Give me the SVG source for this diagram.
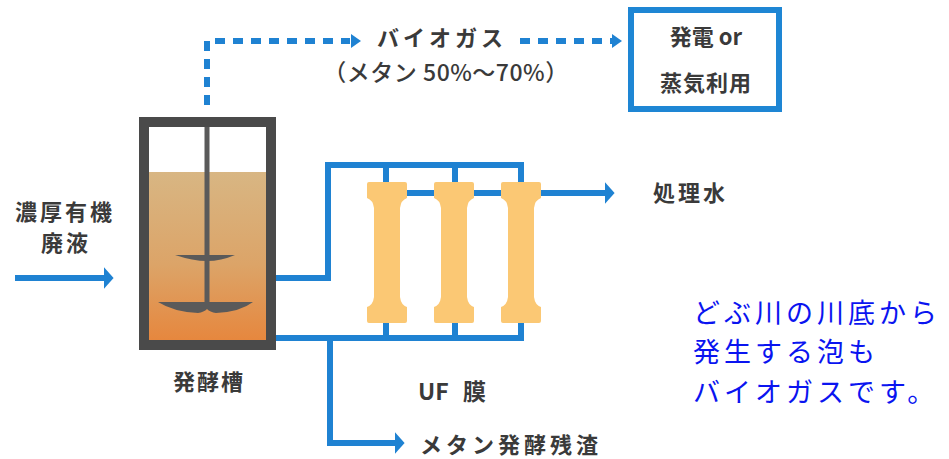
<svg xmlns="http://www.w3.org/2000/svg" xmlns:xlink="http://www.w3.org/1999/xlink" width="949" height="459" viewBox="0 0 949 459">
  <style>
    .lbl { font-family: "Noto Sans CJK JP", "Noto Sans", sans-serif; font-weight: bold; fill: #3a3a3a; }
    .note { font-family: "Noto Sans CJK JP", "Noto Sans", sans-serif; font-size: 27px; letter-spacing: 4px; fill: #0a14f0; }
    .pipe { fill: none; stroke: #1f82d2; stroke-width: 6; stroke-linejoin: miter; }
    .gas { fill: none; stroke: #1f82d2; stroke-width: 6; stroke-dasharray: 10 8; }
  </style>
  <defs>
    <marker id="arrow" markerWidth="4" markerHeight="4" refX="0" refY="2" orient="auto" markerUnits="strokeWidth">
      <path d="M0,0.2 L1.6,2 L0,3.8 Z" fill="#1f82d2"/>
    </marker>
    <linearGradient id="liquid" x1="0" y1="0" x2="0" y2="1">
      <stop offset="0" stop-color="#d8b683"/>
      <stop offset="0.55" stop-color="#dca468"/>
      <stop offset="1" stop-color="#e6873e"/>
    </linearGradient>
    <!-- one UF membrane module, centred on x=0 -->
    <path id="module" fill="#fbc874" d="M-20,184 Q-20,182 -18,182 H18 Q20,182 20,184 V198 Q14,200 13,208 V297 Q14,305 20,307 V321 Q20,323 18,323 H-18 Q-20,323 -20,321 V307 Q-14,305 -13,297 V208 Q-14,200 -20,198 Z"/>
  </defs>

  <rect width="949" height="459" fill="#ffffff"/>

  <!-- pipes and flows -->
  <g id="connectors">
    <!-- biogas line -->
    <polyline class="gas" points="207,105 207,41 350,41"/>
    <path d="M351,34 L361,41 L351,48 Z" fill="#1f82d2"/>
    <line class="gas" x1="520" y1="41" x2="612" y2="41"/>
    <path d="M612,34 L622,41 L612,48 Z" fill="#1f82d2"/>
    <!-- feed -->
    <line class="pipe" x1="15" y1="278" x2="104" y2="278" marker-end="url(#arrow)"/>
    <!-- tank to membranes -->
    <polyline class="pipe" points="276,278 328,278 328,165 521,165 521,185"/>
    <line class="pipe" x1="386" y1="165" x2="386" y2="185"/>
    <line class="pipe" x1="455" y1="165" x2="455" y2="185"/>
    <!-- permeate -->
    <line class="pipe" x1="390" y1="193" x2="605" y2="193" marker-end="url(#arrow)"/>
    <!-- retentate return -->
    <polyline class="pipe" points="276,338 521,338 521,318"/>
    <line class="pipe" x1="386" y1="338" x2="386" y2="318"/>
    <line class="pipe" x1="455" y1="338" x2="455" y2="318"/>
    <!-- digestate -->
    <polyline class="pipe" points="330,338 330,443 395,443" marker-end="url(#arrow)"/>
  </g>

  <!-- digester tank -->
  <g id="tank">
    <rect x="149" y="172" width="117" height="168" fill="url(#liquid)"/>
    <rect x="144" y="122" width="127" height="223" fill="none" stroke="#4a4a4a" stroke-width="10"/>
    <rect x="204.5" y="127" width="5" height="180" fill="#5a5a5a"/>
    <path d="M175,255 H235 Q221,261 207,261 Q193,261 175,255 Z" fill="#5a5a5a"/>
    <path d="M158,302 H253 Q240,312 216,313 Q210,312 207,309 Q204,312 198,313 Q174,312 158,302 Z" fill="#5a5a5a"/>
    <text class="lbl" x="209" y="390" font-size="22" text-anchor="middle" letter-spacing="2">発酵槽</text>
  </g>

  <!-- feed label -->
  <g id="feed">
    <text class="lbl" x="65" y="220" font-size="22" text-anchor="middle" letter-spacing="3">濃厚有機</text>
    <text class="lbl" x="66" y="251" font-size="22" text-anchor="middle" letter-spacing="3">廃液</text>
  </g>

  <!-- UF membrane modules -->
  <g id="uf">
    <use xlink:href="#module" x="387"/>
    <use xlink:href="#module" x="454"/>
    <use xlink:href="#module" x="521"/>
    <text class="lbl" y="400" font-size="23"><tspan x="418">UF</tspan><tspan x="463">膜</tspan></text>
  </g>

  <!-- biogas label -->
  <g id="biogas">
    <text class="lbl" x="442" y="46" font-size="22" text-anchor="middle" letter-spacing="4">バイオガス</text>
    <text class="lbl" x="446" y="81" font-size="23" text-anchor="middle" letter-spacing="0.5" style="font-weight:500">（メタン 50%〜70%）</text>
  </g>

  <!-- power / steam use -->
  <g id="use">
    <rect x="631" y="10" width="148" height="99" fill="#ffffff" stroke="#1e86d4" stroke-width="6"/>
    <text class="lbl" x="706" y="45" font-size="22" text-anchor="middle">発電 or</text>
    <text class="lbl" x="706" y="91" font-size="22" text-anchor="middle" letter-spacing="1">蒸気利用</text>
  </g>

  <!-- treated water -->
  <g id="water">
    <text class="lbl" x="653" y="201" font-size="22" letter-spacing="3">処理水</text>
  </g>

  <!-- digestate -->
  <g id="residue">
    <text class="lbl" x="420" y="453" font-size="22" letter-spacing="4">メタン発酵残渣</text>
  </g>

  <!-- note -->
  <g id="note">
    <text class="note" x="693" y="322.5">どぶ川の川底から</text>
    <text class="note" x="693" y="362">発生する泡も</text>
    <text class="note" x="693" y="401.5">バイオガスです。</text>
  </g>
</svg>
